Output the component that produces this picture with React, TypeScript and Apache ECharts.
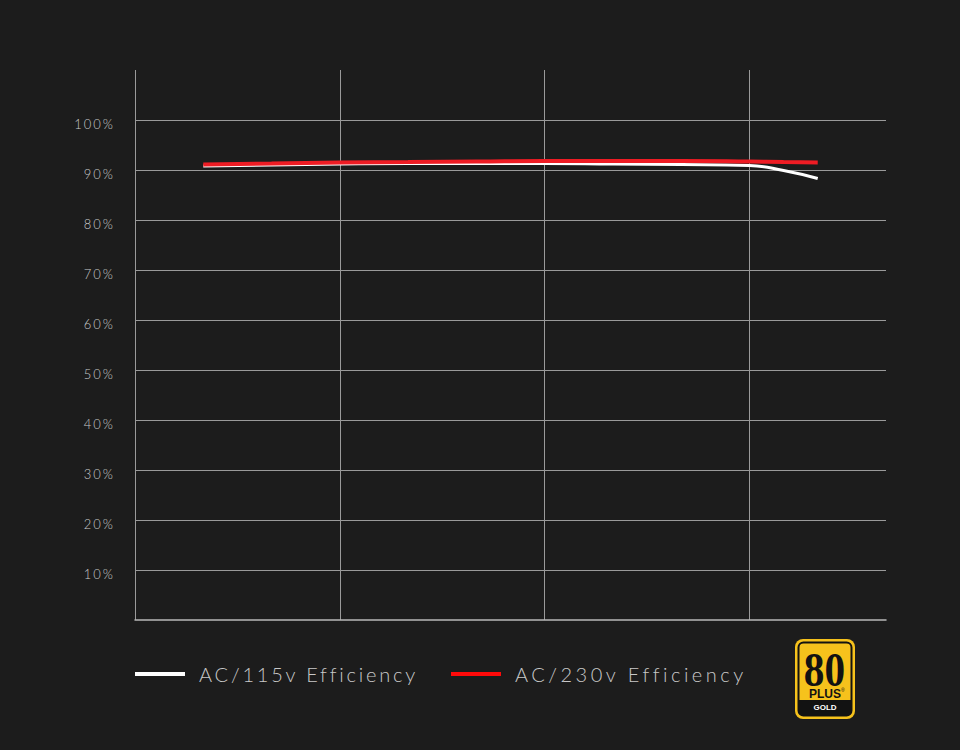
import React, { useEffect, useRef } from "react";
import * as echarts from "echarts";

// Load in watts (x) and efficiency in % (y)
const loadW = [100, 200, 300, 400, 500, 600, 700, 800, 900, 950, 1000];
const eff115 = [90.8, 91.0, 91.2, 91.3, 91.3, 91.3, 91.2, 91.1, 90.9, 89.9, 88.3];
const eff230 = [91.1, 91.3, 91.5, 91.6, 91.7, 91.8, 91.8, 91.8, 91.7, 91.6, 91.5];
const seriesNames = ["AC/115v Efficiency", "AC/230v Efficiency"];
const yTicks = [10, 20, 30, 40, 50, 60, 70, 80, 90, 100];

const BG = "#1c1c1c";
const GRID = "#9a9a9a";
const YELLOW = "#f6c21c";
const BLACK = "#121212";

export default function App() {
  const ref = useRef<HTMLDivElement>(null);
  useEffect(() => {
    const el = ref.current!;
    const chart = echarts.init(el, undefined, { renderer: "svg" });
    const applySpacing = () => {
      el.querySelectorAll("text").forEach((t) => {
        const s = t.textContent || "";
        if (s === seriesNames[0]) t.setAttribute("letter-spacing", "2.8");
        else if (s === seriesNames[1]) t.setAttribute("letter-spacing", "3.5");
        else if (/%$/.test(s)) t.setAttribute("letter-spacing", "2");
      });
    };
    chart.on("finished", applySpacing);
    const pairs = (ys: number[]) => loadW.map((x, i) => [x, ys[i]]);
    const legendText = {
      color: "#c8c8c8",
      fontSize: 20,
      fontFamily: "Lato",
      fontWeight: 300 as any,
      lineHeight: 22,
      padding: [0, 0, 0, 9],
    };
    chart.setOption({
      animation: false,
      backgroundColor: BG,
      grid: { left: 135, right: 74, top: 70, bottom: 130, containLabel: false },
      xAxis: {
        type: "value",
        min: 0,
        max: 1100,
        interval: 300,
        axisLabel: { show: false },
        axisTick: { show: false },
        axisLine: { show: true, lineStyle: { color: "#b8b8b8", width: 1.5 } },
        splitLine: { show: true, showMaxLine: false, lineStyle: { color: GRID, width: 1 } },
      },
      yAxis: {
        type: "value",
        min: 0,
        max: 110,
        interval: 10,
        axisLine: { show: false },
        axisTick: { show: false },
        axisLabel: {
          margin: 20,
          color: "#c8c8c8",
          fontSize: 13,
          fontFamily: "Lato",
          fontWeight: 300,
          verticalAlign: "top",
          lineHeight: 8,
          formatter: (v: number) => (yTicks.indexOf(v) >= 0 ? v + "%" : ""),
        },
        splitLine: { show: true, showMinLine: false, showMaxLine: false, lineStyle: { color: GRID, width: 1 } },
      },
      legend: [
        {
          data: [seriesNames[0]],
          left: 135,
          top: 663,
          padding: 0,
          icon: "rect",
          itemWidth: 50,
          itemHeight: 4,
          textStyle: legendText,
        },
        {
          data: [seriesNames[1]],
          left: 451,
          top: 663,
          padding: 0,
          icon: "rect",
          itemWidth: 50,
          itemHeight: 4,
          textStyle: legendText,
        },
      ],
      series: [
        {
          name: seriesNames[0],
          type: "line",
          smooth: true,
          symbol: "none",
          data: pairs(eff115),
          lineStyle: { color: "#ffffff", width: 3 },
          itemStyle: { color: "#ffffff" },
        },
        {
          name: seriesNames[1],
          type: "line",
          smooth: true,
          symbol: "none",
          data: pairs(eff230),
          lineStyle: { color: "#ee1c24", width: 4 },
          itemStyle: { color: "#ff0a0a" },
        },
      ],
      graphic: [
        {
          type: "group",
          silent: true,
          children: [
            { type: "rect", shape: { x: 795, y: 639, width: 60, height: 80, r: 8 }, style: { fill: YELLOW } },
            {
              type: "rect",
              shape: { x: 798.5, y: 642.5, width: 53, height: 73, r: 5 },
              style: { fill: YELLOW, stroke: BLACK, lineWidth: 2 },
            },
            {
              type: "rect",
              shape: { x: 798.5, y: 700, width: 53, height: 15.5, r: [0, 0, 5, 5] },
              style: { fill: BLACK },
            },
            {
              type: "text",
              x: 824.5,
              y: 669.5,
              scaleX: 0.86,
              style: {
                text: "80",
                fill: BLACK,
                fontSize: 48,
                fontWeight: "bold",
                fontFamily: "Liberation Sans Narrow",
                align: "center",
                verticalAlign: "middle",
              },
            },
            {
              type: "text",
              x: 825,
              y: 694,
              style: {
                text: "PLUS",
                fill: BLACK,
                fontSize: 12,
                fontWeight: "bold",
                fontFamily: "Liberation Sans",
                align: "center",
                verticalAlign: "middle",
              },
            },
            {
              type: "text",
              x: 841,
              y: 690,
              style: {
                text: "®",
                fill: BLACK,
                fontSize: 5,
                fontFamily: "Liberation Sans",
                align: "left",
                verticalAlign: "middle",
              },
            },
            {
              type: "text",
              x: 825,
              y: 707.5,
              style: {
                text: "GOLD",
                fill: "#ffffff",
                fontSize: 8,
                fontWeight: "bold",
                fontFamily: "Liberation Sans",
                align: "center",
                verticalAlign: "middle",
              },
            },
          ],
        },
      ],
    });
    applySpacing();
    return () => {
      chart.off("finished", applySpacing);
      chart.dispose();
    };
  }, []);
  return (
    <div
      ref={ref}
      style={{ position: "fixed", left: 0, top: 0, width: 960, height: 750, background: BG }}
    />
  );
}
